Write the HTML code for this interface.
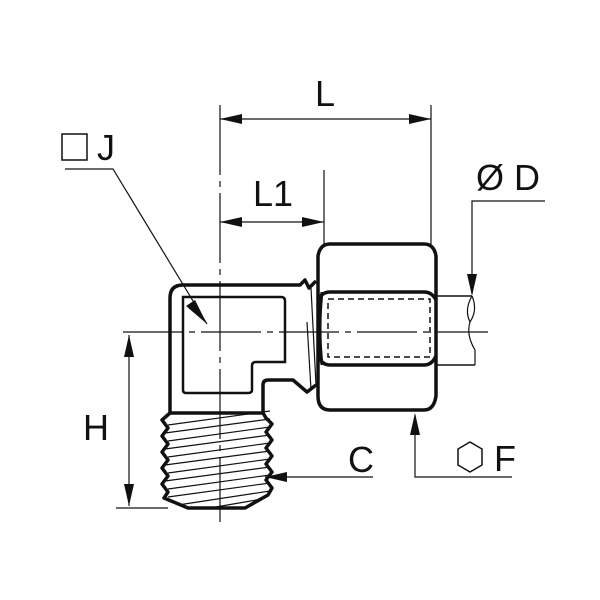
<!DOCTYPE html>
<html><head><style>body{margin:0;background:#fff}svg{display:block}</style></head><body>
<svg width="600" height="600" viewBox="0 0 600 600" xmlns="http://www.w3.org/2000/svg" font-family="Liberation Sans, sans-serif">
<rect width="600" height="600" fill="#fff"/>
<g stroke="#111" fill="none">
<line x1="123" y1="332" x2="488" y2="332" stroke-width="1.2" stroke-dasharray="60,6,6,6"/>
<line x1="220" y1="105" x2="220" y2="522" stroke-width="1.2" stroke-dasharray="70,6,6,6"/>
<line x1="431" y1="105" x2="431" y2="244" stroke-width="1.2"/>
<line x1="324" y1="170" x2="324" y2="244" stroke-width="1.2"/>
<line x1="116" y1="508" x2="168" y2="508" stroke-width="1.2"/>
<line x1="220" y1="119" x2="431" y2="119" stroke-width="1.2"/>
<line x1="220" y1="222" x2="324" y2="222" stroke-width="1.2"/>
<line x1="129" y1="335" x2="129" y2="506" stroke-width="1.2"/>
<polyline points="65,169 113,169 207,324" stroke-width="1.2"/>
<polyline points="545,201 472,201 472,294" stroke-width="1.2"/>
<line x1="265" y1="477" x2="373" y2="477" stroke-width="1.2"/>
<polyline points="415,415 415,477 512,477" stroke-width="1.2"/>
<path d="M170,413 L170,298 Q170,285 183,285 L300,285 L305,280 L309,288 L316,281" stroke-width="3.5" stroke-linejoin="round"/>
<path d="M263,413 L263,385 Q263,380 268,380 L293,380 L307,392 L316,385" stroke-width="3.5" stroke-linejoin="round"/>
<path d="M183,297 L281,297 Q285,297 285,301 L285,362 L256,362 Q252,362 252,366 L252,390 Q252,393 248,393 L186,393 Q183,393 183,390 Z" stroke-width="2.5"/>
<line x1="311" y1="288" x2="316" y2="385" stroke-width="1.2"/>
<line x1="307" y1="322" x2="311" y2="390" stroke-width="1.2"/>
<path d="M170,413 L162,420 L168,428 L162,436 L168,444 L162,452 L168,460 L162,468 L168,476 L162,484 L168,492 L164,498 L188,508 L245,508 L268,495 L272,488 L266,480 L272,472 L266,464 L272,456 L266,448 L272,440 L266,432 L272,424 L266,418 L263,413 Z" stroke-width="3.5" stroke-linejoin="round"/>
<g stroke-width="1.2">
<line x1="168" y1="425" x2="270" y2="411"/>
<line x1="165" y1="433" x2="270" y2="419"/>
<line x1="168" y1="441" x2="270" y2="427"/>
<line x1="165" y1="449" x2="270" y2="435"/>
<line x1="168" y1="457" x2="270" y2="443"/>
<line x1="165" y1="465" x2="270" y2="451"/>
<line x1="168" y1="473" x2="270" y2="459"/>
<line x1="165" y1="481" x2="270" y2="467"/>
<line x1="168" y1="489" x2="270" y2="475"/>
<line x1="168" y1="497" x2="270" y2="483"/>
<line x1="178" y1="505" x2="270" y2="491"/>
<line x1="210" y1="508" x2="262" y2="499"/>
</g>
<path d="M330,244 L424,244 Q434,244 436,256 L436,396 Q434,410 424,410 L330,410 Q318,410 318,396 L318,256 Q320,244 330,244 Z" stroke-width="3.5"/>
<path d="M318,300 Q322,292 330,292 L424,292 Q432,292 436,300" stroke-width="3.5"/>
<path d="M318,356 Q322,365 330,365 L424,365 Q432,365 436,356" stroke-width="3.5"/>
<path d="M322,292 Q318,328 322,365" stroke-width="3"/>
<rect x="328" y="299" width="102" height="58" stroke-width="1.5" stroke-dasharray="6,4"/>
<line x1="436" y1="296" x2="472" y2="296" stroke-width="1.5"/>
<line x1="436" y1="365" x2="475" y2="365" stroke-width="1.5"/>
<path d="M472,296 Q478,310 470,322 Q466,335 475,350 L475,365" stroke-width="1.2"/>
<path d="M472,296 Q464,310 470,322" stroke-width="1.2"/>
<rect x="62" y="134" width="25" height="26" stroke-width="1.5"/>
<polygon points="470,442 482,449 482,465 470,472 458,465 458,449" stroke-width="1.5"/>
</g>
<g fill="#111">
<polygon points="220,119 242,114 242,124"/>
<polygon points="431,119 409,114 409,124"/>
<polygon points="220,222 242,217 242,227"/>
<polygon points="324,222 302,217 302,227"/>
<polygon points="129,335 124,357 134,357"/>
<polygon points="129,506 124,484 134,484"/>
<polygon points="472,296 467,274 477,274"/>
<polygon points="265,477 287,472 287,482"/>
<polygon points="415,413 410,435 420,435"/>
<polygon points="207,324 186,306 195,300"/>
</g>
<g fill="#111" font-size="36">
<text x="325" y="106" text-anchor="middle">L</text>
<text x="273" y="206" text-anchor="middle">L1</text>
<text x="97" y="160">J</text>
<text x="508" y="190" text-anchor="middle">Ø D</text>
<text x="96" y="440" text-anchor="middle">H</text>
<text x="361" y="472" text-anchor="middle">C</text>
<text x="505" y="471" text-anchor="middle">F</text>
</g>
</svg>
</body></html>
